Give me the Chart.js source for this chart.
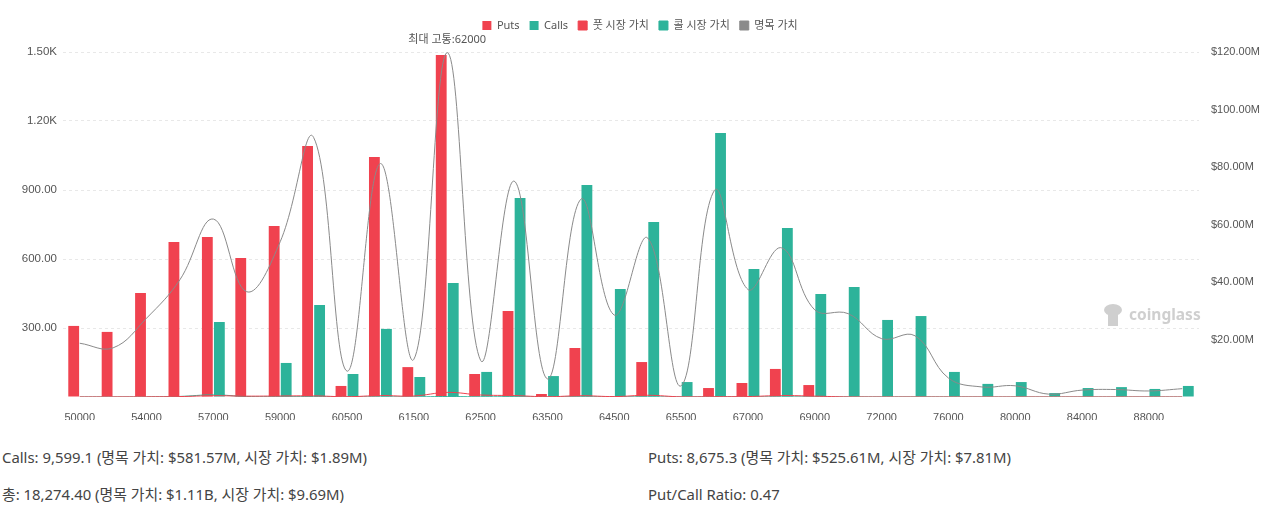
<!DOCTYPE html>
<html>
<head>
<meta charset="utf-8">
<script src="https://cdn.jsdelivr.net/npm/chart.js@4.4.1/dist/chart.umd.min.js"></script>
<style>
  body { margin: 0; background: #fff; font-family: "Noto Sans", "Noto Sans CJK KR", sans-serif; }
  #wrap { position: relative; width: 1280px; height: 420px; }
  .stat { position: absolute; font-size: 14.9px; color: #444; white-space: nowrap; line-height: 20px; }
</style>
</head>
<body>
<div id="wrap"><canvas id="chart"></canvas></div>
<div class="stat" style="left:2px;top:447px">Calls: 9,599.1 (명목 가치: $581.57M, 시장 가치: $1.89M)</div>
<div class="stat" style="left:648px;top:447px">Puts: 8,675.3 (명목 가치: $525.61M, 시장 가치: $7.81M)</div>
<div class="stat" style="left:2px;top:484px">총: 18,274.40 (명목 가치: $1.11B, 시장 가치: $9.69M)</div>
<div class="stat" style="left:648px;top:484px">Put/Call Ratio: 0.47</div>
<script>
const strikes = ['50000','52000','54000','56000','57000','58000','59000','60000','60500','61000',
  '61500','62000','62500','63000','63500','64000','64500','65000','65500','66000','67000','68000',
  '69000','70000','72000','74000','76000','78000','80000','82000','84000','86000','88000','90000'];

// open interest (contracts)
const puts = [309,283,452,674,696,604,743,1091,48,1044,130,1487,100,374,13,213,0,152,0,39,61,122,
  52,0,0,0,0,0,0,0,0,0,0,0];
const calls = [0,0,0,0,326,0,148,400,100,296,87,496,109,865,91,922,470,761,65,1148,556,735,
  448,478,335,352,109,57,65,17,39,43,35,48];

// values in $M
const putMarket = [0.02,0.03,0.06,0.15,0.45,0.3,0.35,0.4,0.1,0.5,0.35,1.6,0.7,0.5,0.1,0.45,0.15,
  0.6,0.05,0.1,0.15,0.5,0.3,0.02,0,0,0,0,0,0,0,0,0,0];
const callMarket = [0,0,0.02,0.2,0.75,0.15,0.1,0.1,0.03,0.05,0.03,0.15,0.05,0.1,0.02,0.08,0.03,
  0.06,0.01,0.05,0.03,0.04,0.02,0.02,0.01,0.01,0.01,0,0,0,0,0,0,0];
const notional = [18.7,17.1,27.4,40.8,61.9,36.6,54.0,90.3,9.0,81.2,13.1,119.8,12.7,75.1,6.3,68.8,
  28.5,55.3,3.9,71.9,37.4,51.9,30.3,29.0,20.3,21.3,6.6,3.5,3.9,1.0,2.4,2.6,2.1,2.9];

const maxPain = '62000';

const RED = '#f0424f';
const TEAL = '#2db39a';
const GRAY = '#8a8a8a';

const legendFix = {
  id: 'legendFix',
  beforeLayout(chart) {
    const lg = chart.legend;
    if (lg && !lg._patched) {
      const fit = lg.fit;
      lg.fit = function () { fit.call(this); this.height = 42; };
      lg._patched = true;
    }
  }
};

const extras = {
  id: 'extras',
  beforeDatasetsDraw(chart) {
    const ctx = chart.ctx;
    ctx.save();
    // watermark
    ctx.fillStyle = '#cfcfcf';
    ctx.beginPath();
    ctx.ellipse(1113, 310, 9, 6, 0, 0, Math.PI * 2);
    ctx.fill();
    ctx.fillRect(1108, 310, 10, 16);
    ctx.font = 'bold 15.5px "Noto Sans", sans-serif';
    ctx.textAlign = 'left';
    ctx.textBaseline = 'middle';
    ctx.fillText('coinglass', 1129, 316);
    ctx.restore();
  },
  afterDatasetsDraw(chart) {
    const ctx = chart.ctx;
    const x = chart.scales.x.getPixelForValue(strikes.indexOf(maxPain));
    ctx.save();
    ctx.font = '11px "Noto Sans", "Noto Sans CJK KR", sans-serif';
    ctx.fillStyle = '#555';
    ctx.textAlign = 'center';
    ctx.textBaseline = 'middle';
    ctx.fillText('최대 고통:' + maxPain, x, chart.chartArea.top - 12);
    ctx.restore();
  }
};

new Chart(document.getElementById('chart'), {
  type: 'bar',
  data: {
    labels: strikes,
    datasets: [
      { label: 'Puts', data: puts, backgroundColor: RED, yAxisID: 'y',
        categoryPercentage: 0.72, barPercentage: 0.9 },
      { label: 'Calls', data: calls, backgroundColor: TEAL, yAxisID: 'y',
        categoryPercentage: 0.72, barPercentage: 0.9 },
      { type: 'line', label: '풋 시장 가치', data: putMarket, borderColor: RED, backgroundColor: RED,
        borderWidth: 1, pointRadius: 0, tension: 0.4, yAxisID: 'y1', order: -1 },
      { type: 'line', label: '콜 시장 가치', data: callMarket, borderColor: TEAL, backgroundColor: TEAL,
        borderWidth: 1, pointRadius: 0, tension: 0.4, yAxisID: 'y1', order: -1 },
      { type: 'line', label: '명목 가치', data: notional, borderColor: GRAY, backgroundColor: GRAY,
        borderWidth: 1, pointRadius: 0, tension: 0.4, yAxisID: 'y1', order: -1 }
    ]
  },
  options: {
    responsive: true,
    maintainAspectRatio: false,
    animation: false,
    layout: { padding: { top: 10, left: 0, right: 0, bottom: 0 } },
    plugins: {
      legend: {
        position: 'top',
        labels: {
          boxWidth: 9,
          boxHeight: 9,
          padding: 10,
          color: '#555',
          font: { size: 11, family: '"Noto Sans", "Noto Sans CJK KR", sans-serif' },
          sort: (a, b) => a.datasetIndex - b.datasetIndex
        }
      },
      tooltip: { enabled: false }
    },
    scales: {
      x: {
        grid: { display: false },
        border: { display: false },
        ticks: {
          autoSkip: false,
          maxRotation: 0,
          padding: 6,
          color: '#555',
          font: { size: 11 },
          callback: (v, i) => (i % 2 === 0 ? strikes[i] : '')
        },
        afterFit: s => { s.height = 23; }
      },
      y: {
        position: 'left',
        min: 0,
        max: 1500,
        grid: {
          color: c => (c.tick && c.tick.value === 0 ? 'transparent' : '#e8e8e8'),
          drawTicks: false
        },
        border: { display: false, dash: [3, 3] },
        ticks: {
          stepSize: 300,
          padding: 6,
          color: '#555',
          font: { size: 11.5 },
          callback: v => (v === 0 ? '' : v >= 1000 ? (v / 1000).toFixed(2) + 'K' : v.toFixed(2))
        },
        afterFit: s => { s.width = 63; }
      },
      y1: {
        position: 'right',
        min: 0,
        max: 120,
        grid: { display: false },
        border: { display: false },
        ticks: {
          stepSize: 20,
          padding: 4,
          color: '#555',
          font: { size: 11 },
          callback: v => (v === 0 ? '' : '$' + v.toFixed(2) + 'M')
        },
        afterFit: s => { s.width = 81; }
      }
    }
  },
  plugins: [legendFix, extras]
});
</script>
</body>
</html>
